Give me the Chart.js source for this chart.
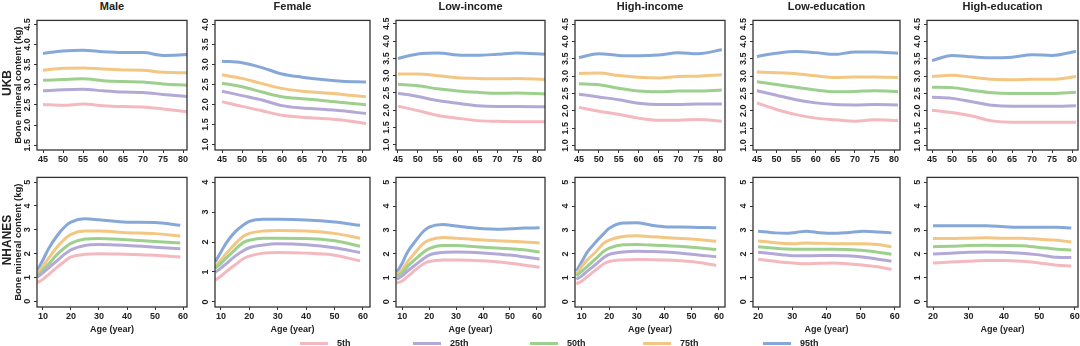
<!DOCTYPE html>
<html>
<head>
<meta charset="utf-8">
<script src="https://cdn.jsdelivr.net/npm/chart.js@4/dist/chart.umd.min.js"></script>
<style>
  body { margin: 0; background: #fff; width: 1080px; height: 346px; overflow: hidden; position: relative;
         font-family: "Liberation Sans", Arial, sans-serif; color: #222; }
  .panel { position: absolute; }
  .titre { position: absolute; font-weight: bold; font-size: 11px; transform: translate(-50%, -50%); white-space: nowrap; }
  .ligne { position: absolute; font-weight: bold; font-size: 12px; transform: translate(-50%, -50%) rotate(-90deg); white-space: nowrap; }
  .leg { position: absolute; top: 338px; font-weight: bold; font-size: 9px; display: flex; align-items: center; }
  .leg span.trait { display: inline-block; width: 28px; height: 3px; margin-right: 9px; }
</style>
</head>
<body>
<script>
const percentiles = ['5th', '25th', '50th', '75th', '95th'];
const couleurs = ['#f4b8bf', '#b3a9d7', '#9dd08d', '#f3c783', '#86a8d9'];
const colonnes = ['Male', 'Female', 'Low-income', 'High-income', 'Low-education', 'High-education'];
const lignes = ['UKB', 'NHANES'];

// ─── UKB (45-81 ans) ───────────
const ukbAges = [45, 50, 55, 60, 65, 70, 75, 81];
const ukbAgesLowInc = [45, 50, 55, 60, 65, 70, 75, 82];
const ukbMale = [
  [2.51, 2.49, 2.52, 2.48, 2.46, 2.45, 2.40, 2.33],
  [2.85, 2.88, 2.89, 2.85, 2.82, 2.81, 2.76, 2.71],
  [3.11, 3.13, 3.15, 3.10, 3.08, 3.07, 3.02, 2.99],
  [3.36, 3.41, 3.42, 3.39, 3.37, 3.36, 3.31, 3.30],
  [3.78, 3.84, 3.86, 3.82, 3.80, 3.80, 3.73, 3.75]
];
const ukbFemale = [
  [2.07, 1.95, 1.84, 1.73, 1.68, 1.65, 1.61, 1.52],
  [2.33, 2.22, 2.11, 1.97, 1.91, 1.88, 1.84, 1.77],
  [2.53, 2.44, 2.31, 2.19, 2.14, 2.10, 2.05, 1.99],
  [2.74, 2.65, 2.52, 2.40, 2.33, 2.29, 2.25, 2.19],
  [3.08, 3.04, 2.92, 2.76, 2.68, 2.62, 2.58, 2.56]
];
const ukbLowInc = [
  [2.12, 1.99, 1.85, 1.77, 1.70, 1.68, 1.67, 1.67],
  [2.49, 2.40, 2.28, 2.20, 2.13, 2.11, 2.11, 2.10],
  [2.75, 2.71, 2.62, 2.56, 2.52, 2.49, 2.50, 2.47],
  [3.05, 3.05, 3.00, 2.94, 2.92, 2.91, 2.92, 2.89],
  [3.50, 3.63, 3.66, 3.60, 3.59, 3.62, 3.66, 3.62]
];
const ukbHighInc = [
  [2.10, 1.99, 1.90, 1.79, 1.73, 1.73, 1.75, 1.70],
  [2.48, 2.40, 2.32, 2.22, 2.18, 2.18, 2.20, 2.20],
  [2.78, 2.75, 2.65, 2.57, 2.55, 2.57, 2.57, 2.60],
  [3.08, 3.09, 3.02, 2.97, 2.95, 2.99, 3.00, 3.04],
  [3.54, 3.65, 3.60, 3.59, 3.61, 3.68, 3.65, 3.76]
];
const ukbLowEdu = [
  [2.23, 2.04, 1.89, 1.79, 1.74, 1.70, 1.74, 1.72],
  [2.58, 2.45, 2.32, 2.23, 2.18, 2.17, 2.18, 2.17],
  [2.84, 2.76, 2.68, 2.60, 2.55, 2.56, 2.58, 2.56],
  [3.12, 3.10, 3.07, 3.01, 2.96, 2.98, 2.98, 2.96],
  [3.57, 3.66, 3.71, 3.68, 3.63, 3.70, 3.70, 3.66]
];
const ukbHighEdu = [
  [2.02, 1.95, 1.85, 1.71, 1.67, 1.67, 1.67, 1.67],
  [2.39, 2.36, 2.26, 2.16, 2.13, 2.13, 2.13, 2.15],
  [2.68, 2.67, 2.59, 2.52, 2.50, 2.50, 2.50, 2.54],
  [2.99, 3.03, 2.97, 2.91, 2.90, 2.91, 2.91, 2.99],
  [3.45, 3.60, 3.56, 3.53, 3.55, 3.62, 3.60, 3.72]
];

// ─── NHANES ───────────
const nhAges = [8, 10, 12, 15, 18, 20, 25, 30, 40, 50, 59];
const nhAgesLowInc = [8, 10, 12, 15, 18, 20, 25, 30, 35, 40, 45, 50, 55, 61];
const nhAgesHighInc = [8, 10, 12, 15, 18, 20, 25, 30, 35, 40, 50, 59];
const nhAgesLowEdu = [20, 25, 28, 31, 34, 38, 42, 46, 51, 55, 59];
const nhAgesHighEdu = [20, 25, 30, 35, 40, 45, 50, 55, 59];
const nhMale = [
  [0.78, 0.92, 1.12, 1.42, 1.70, 1.86, 1.97, 2.00, 1.97, 1.93, 1.86],
  [1.01, 1.19, 1.39, 1.70, 2.00, 2.16, 2.34, 2.38, 2.34, 2.27, 2.20],
  [1.08, 1.30, 1.55, 1.96, 2.27, 2.43, 2.61, 2.64, 2.58, 2.51, 2.45],
  [1.16, 1.46, 1.80, 2.27, 2.64, 2.81, 2.95, 2.95, 2.88, 2.84, 2.74],
  [1.30, 1.73, 2.20, 2.74, 3.15, 3.32, 3.46, 3.42, 3.32, 3.31, 3.19]
];
const nhFemale = [
  [0.73, 0.86, 1.02, 1.24, 1.45, 1.53, 1.63, 1.65, 1.63, 1.56, 1.37],
  [0.99, 1.13, 1.29, 1.53, 1.72, 1.81, 1.90, 1.94, 1.91, 1.81, 1.65],
  [1.13, 1.29, 1.48, 1.75, 1.99, 2.06, 2.13, 2.13, 2.12, 2.04, 1.86],
  [1.18, 1.40, 1.63, 1.94, 2.20, 2.29, 2.37, 2.39, 2.37, 2.29, 2.13],
  [1.34, 1.67, 1.99, 2.34, 2.58, 2.69, 2.76, 2.76, 2.74, 2.67, 2.56]
];
const nhLowInc = [
  [0.78, 0.87, 1.05, 1.34, 1.59, 1.68, 1.75, 1.75, 1.74, 1.71, 1.67, 1.61, 1.54, 1.44],
  [0.94, 1.08, 1.28, 1.55, 1.81, 1.95, 2.06, 2.08, 2.07, 2.04, 2.00, 1.95, 1.88, 1.79],
  [1.08, 1.21, 1.48, 1.79, 2.08, 2.22, 2.35, 2.35, 2.32, 2.28, 2.25, 2.22, 2.17, 2.08],
  [1.14, 1.34, 1.68, 2.08, 2.45, 2.58, 2.69, 2.66, 2.62, 2.58, 2.55, 2.53, 2.50, 2.46],
  [1.24, 1.61, 2.08, 2.55, 2.96, 3.12, 3.23, 3.17, 3.10, 3.05, 3.03, 3.05, 3.08, 3.09]
];
const nhHighInc = [
  [0.74, 0.87, 1.05, 1.32, 1.59, 1.68, 1.75, 1.77, 1.76, 1.75, 1.68, 1.52],
  [0.94, 1.08, 1.28, 1.55, 1.85, 1.98, 2.08, 2.11, 2.10, 2.08, 1.99, 1.88],
  [1.08, 1.28, 1.48, 1.79, 2.11, 2.24, 2.38, 2.39, 2.37, 2.35, 2.28, 2.18],
  [1.14, 1.48, 1.75, 2.08, 2.45, 2.58, 2.73, 2.76, 2.72, 2.69, 2.62, 2.53],
  [1.28, 1.68, 2.08, 2.49, 2.85, 3.07, 3.29, 3.30, 3.21, 3.14, 3.12, 3.09]
];
const nhLowEdu = [
  [1.78, 1.69, 1.64, 1.61, 1.59, 1.61, 1.62, 1.59, 1.53, 1.46, 1.35],
  [2.07, 2.00, 1.95, 1.92, 1.92, 1.93, 1.93, 1.92, 1.86, 1.78, 1.69],
  [2.30, 2.24, 2.21, 2.19, 2.19, 2.19, 2.19, 2.18, 2.14, 2.07, 1.99],
  [2.54, 2.47, 2.44, 2.43, 2.46, 2.45, 2.43, 2.43, 2.43, 2.39, 2.30],
  [2.95, 2.88, 2.86, 2.90, 2.95, 2.89, 2.86, 2.89, 2.95, 2.92, 2.88]
];
const nhHighEdu = [
  [1.62, 1.66, 1.69, 1.72, 1.72, 1.69, 1.62, 1.53, 1.49],
  [2.00, 2.03, 2.07, 2.08, 2.07, 2.03, 1.96, 1.86, 1.85],
  [2.30, 2.32, 2.35, 2.36, 2.35, 2.34, 2.27, 2.20, 2.16],
  [2.64, 2.64, 2.66, 2.68, 2.66, 2.66, 2.61, 2.57, 2.50],
  [3.18, 3.18, 3.18, 3.18, 3.14, 3.11, 3.11, 3.11, 3.08]
];

// ─── Graduations ───────────
const ticksUkbMale = [1.5, 2, 2.5, 3, 3.5, 4, 4.5];
const ticksUkbFemale = [1, 1.5, 2, 2.5, 3, 3.5, 4];
const ticksUkb = [1, 1.5, 2, 2.5, 3, 3.5, 4, 4.5];
const ticksNh = [0, 1, 2, 3, 4, 5];
const ticksNhFemale = [0, 1, 2, 3, 4];
const ticksAgeUkb = [45, 50, 55, 60, 65, 70, 75, 80];
const ticksAgeNh = [10, 20, 30, 40, 50, 60];
const ticksAgeEdu = [20, 30, 40, 50, 60];

// ─── Mise en page ───────────
const gauches = [37, 215, 396, 575, 753, 927];
const droites = [187, 370, 545, 725, 900, 1078];
const hauts = [16, 173];
const bas = [150, 307];

const panneaux = [
  { r: 0, c: 0, ages: ukbAges, s: ukbMale, yt: ticksUkbMale, y0: 1.38, y1: 4.6, xt: ticksAgeUkb, x0: 43.5, x1: 81, dec: 1 },
  { r: 0, c: 1, ages: ukbAges, s: ukbFemale, yt: ticksUkbFemale, y0: 0.86, y1: 4.1, xt: ticksAgeUkb, x0: 43.25, x1: 82, dec: 1 },
  { r: 0, c: 2, ages: ukbAgesLowInc, s: ukbLowInc, yt: ticksUkb, y0: 0.85, y1: 4.6, xt: ticksAgeUkb, x0: 44.5, x1: 82, dec: 1 },
  { r: 0, c: 3, ages: ukbAges, s: ukbHighInc, yt: ticksUkb, y0: 0.87, y1: 4.61, xt: ticksAgeUkb, x0: 44, x1: 81.8, dec: 1 },
  { r: 0, c: 4, ages: ukbAges, s: ukbLowEdu, yt: ticksUkb, y0: 0.87, y1: 4.61, xt: ticksAgeUkb, x0: 44, x1: 81.5, dec: 1 },
  { r: 0, c: 5, ages: ukbAges, s: ukbHighEdu, yt: ticksUkb, y0: 0.87, y1: 4.61, xt: ticksAgeUkb, x0: 43.75, x1: 81.5, dec: 1 },
  { r: 1, c: 0, ages: nhAges, s: nhMale, yt: ticksNh, y0: -0.24, y1: 5.2, xt: ticksAgeNh, x0: 7.9, x1: 61.4, dec: 0 },
  { r: 1, c: 1, ages: nhAges, s: nhFemale, yt: ticksNhFemale, y0: -0.17, y1: 4.16, xt: ticksAgeNh, x0: 7.9, x1: 62.5, dec: 0 },
  { r: 1, c: 2, ages: nhAgesLowInc, s: nhLowInc, yt: ticksNh, y0: -0.22, y1: 5.2, xt: ticksAgeNh, x0: 7.7, x1: 63, dec: 0 },
  { r: 1, c: 3, ages: nhAgesHighInc, s: nhHighInc, yt: ticksNh, y0: -0.22, y1: 5.2, xt: ticksAgeNh, x0: 7.5, x1: 62.2, dec: 0 },
  { r: 1, c: 4, ages: nhAgesLowEdu, s: nhLowEdu, yt: ticksNh, y0: -0.22, y1: 5.2, xt: ticksAgeEdu, x0: 18.5, x1: 61.5, dec: 0 },
  { r: 1, c: 5, ages: nhAgesHighEdu, s: nhHighEdu, yt: ticksNh, y0: -0.22, y1: 5.2, xt: ticksAgeEdu, x0: 18.3, x1: 60.9, dec: 0 }
];

const POLICE = '"Liberation Sans", Arial, sans-serif';

// cadre + étiquettes verticales de l'axe y (façon R)
const cadre = {
  id: 'cadre',
  afterDraw(chart) {
    const { ctx, chartArea: a, scales: { y } } = chart;
    ctx.save();
    ctx.strokeStyle = '#333';
    ctx.lineWidth = 1.3;
    ctx.strokeRect(a.left, a.top, a.right - a.left, a.bottom - a.top);
    ctx.fillStyle = '#222';
    ctx.font = 'bold 9px ' + POLICE;
    ctx.textAlign = 'center';
    ctx.textBaseline = 'middle';
    y.ticks.forEach(t => {
      ctx.save();
      ctx.translate(a.left - 9, y.getPixelForValue(t.value));
      ctx.rotate(-Math.PI / 2);
      ctx.fillText(t.label, 0, 0);
      ctx.restore();
    });
    ctx.restore();
  }
};

panneaux.forEach(p => {
  const L = p.c === 0 ? 37 : 30;
  const H = p.r === 1 ? 32 : 18;
  const w = droites[p.c] - gauches[p.c];
  const h = bas[p.r] - hauts[p.r];
  const div = document.createElement('div');
  div.className = 'panel';
  div.style.left = (gauches[p.c] - L) + 'px';
  div.style.top = (hauts[p.r] - 4) + 'px';
  const cv = document.createElement('canvas');
  cv.width = L + w + 3;
  cv.height = 4 + h + H;
  div.appendChild(cv);
  document.body.appendChild(div);

  new Chart(cv, {
    type: 'line',
    data: {
      datasets: p.s.map((vals, i) => ({
        label: percentiles[i],
        data: vals.map((v, k) => ({ x: p.ages[k], y: v })),
        borderColor: couleurs[i],
        borderWidth: 3,
        pointRadius: 0,
        cubicInterpolationMode: 'monotone',
        fill: false
      }))
    },
    options: {
      responsive: false,
      animation: false,
      layout: { padding: { left: 0, top: 4, right: 3, bottom: 0 } },
      plugins: { legend: { display: false }, tooltip: { enabled: false } },
      scales: {
        x: {
          type: 'linear', min: p.x0, max: p.x1,
          afterBuildTicks: s => { s.ticks = p.xt.map(v => ({ value: v })); },
          afterFit: s => { s.height = H; },
          grid: { drawOnChartArea: false, drawTicks: true, tickLength: 3, color: '#333' },
          border: { display: false },
          ticks: { autoSkip: false, maxRotation: 0, padding: 1, color: '#222',
                   font: { family: POLICE, size: 9, weight: 'bold' }, callback: v => String(v) },
          title: { display: p.r === 1, text: 'Age (year)', color: '#222',
                   font: { family: POLICE, size: 9, weight: 'bold' }, padding: { top: 0, bottom: 4 } }
        },
        y: {
          min: p.y0, max: p.y1,
          afterBuildTicks: s => { s.ticks = p.yt.map(v => ({ value: v })); },
          afterFit: s => { s.width = L; },
          grid: { drawOnChartArea: false, drawTicks: true, tickLength: 3, color: '#333' },
          border: { display: false },
          ticks: { color: 'rgba(0,0,0,0)', font: { family: POLICE, size: 9 }, callback: v => v.toFixed(p.dec) },
          title: { display: p.c === 0, text: 'Bone mineral content (kg)', color: '#222',
                   font: { family: POLICE, size: 9.5, weight: 'bold' }, padding: { top: 13, bottom: 0 } }
        }
      }
    },
    plugins: [cadre]
  });
});

// titres de colonnes
colonnes.forEach((t, c) => {
  const el = document.createElement('div');
  el.className = 'titre';
  el.textContent = t;
  el.style.left = ((gauches[c] + droites[c]) / 2) + 'px';
  el.style.top = '6px';
  document.body.appendChild(el);
});

// étiquettes de lignes
lignes.forEach((t, r) => {
  const el = document.createElement('div');
  el.className = 'ligne';
  el.textContent = t;
  el.style.left = '7px';
  el.style.top = ((hauts[r] + bas[r]) / 2) + 'px';
  document.body.appendChild(el);
});

// légende
const legX = [300, 413, 530, 643, 763];
percentiles.forEach((t, i) => {
  const el = document.createElement('div');
  el.className = 'leg';
  el.style.left = legX[i] + 'px';
  el.innerHTML = `<span class="trait" style="background:${couleurs[i]}"></span>${t}`;
  document.body.appendChild(el);
});
</script>
</body>
</html>
